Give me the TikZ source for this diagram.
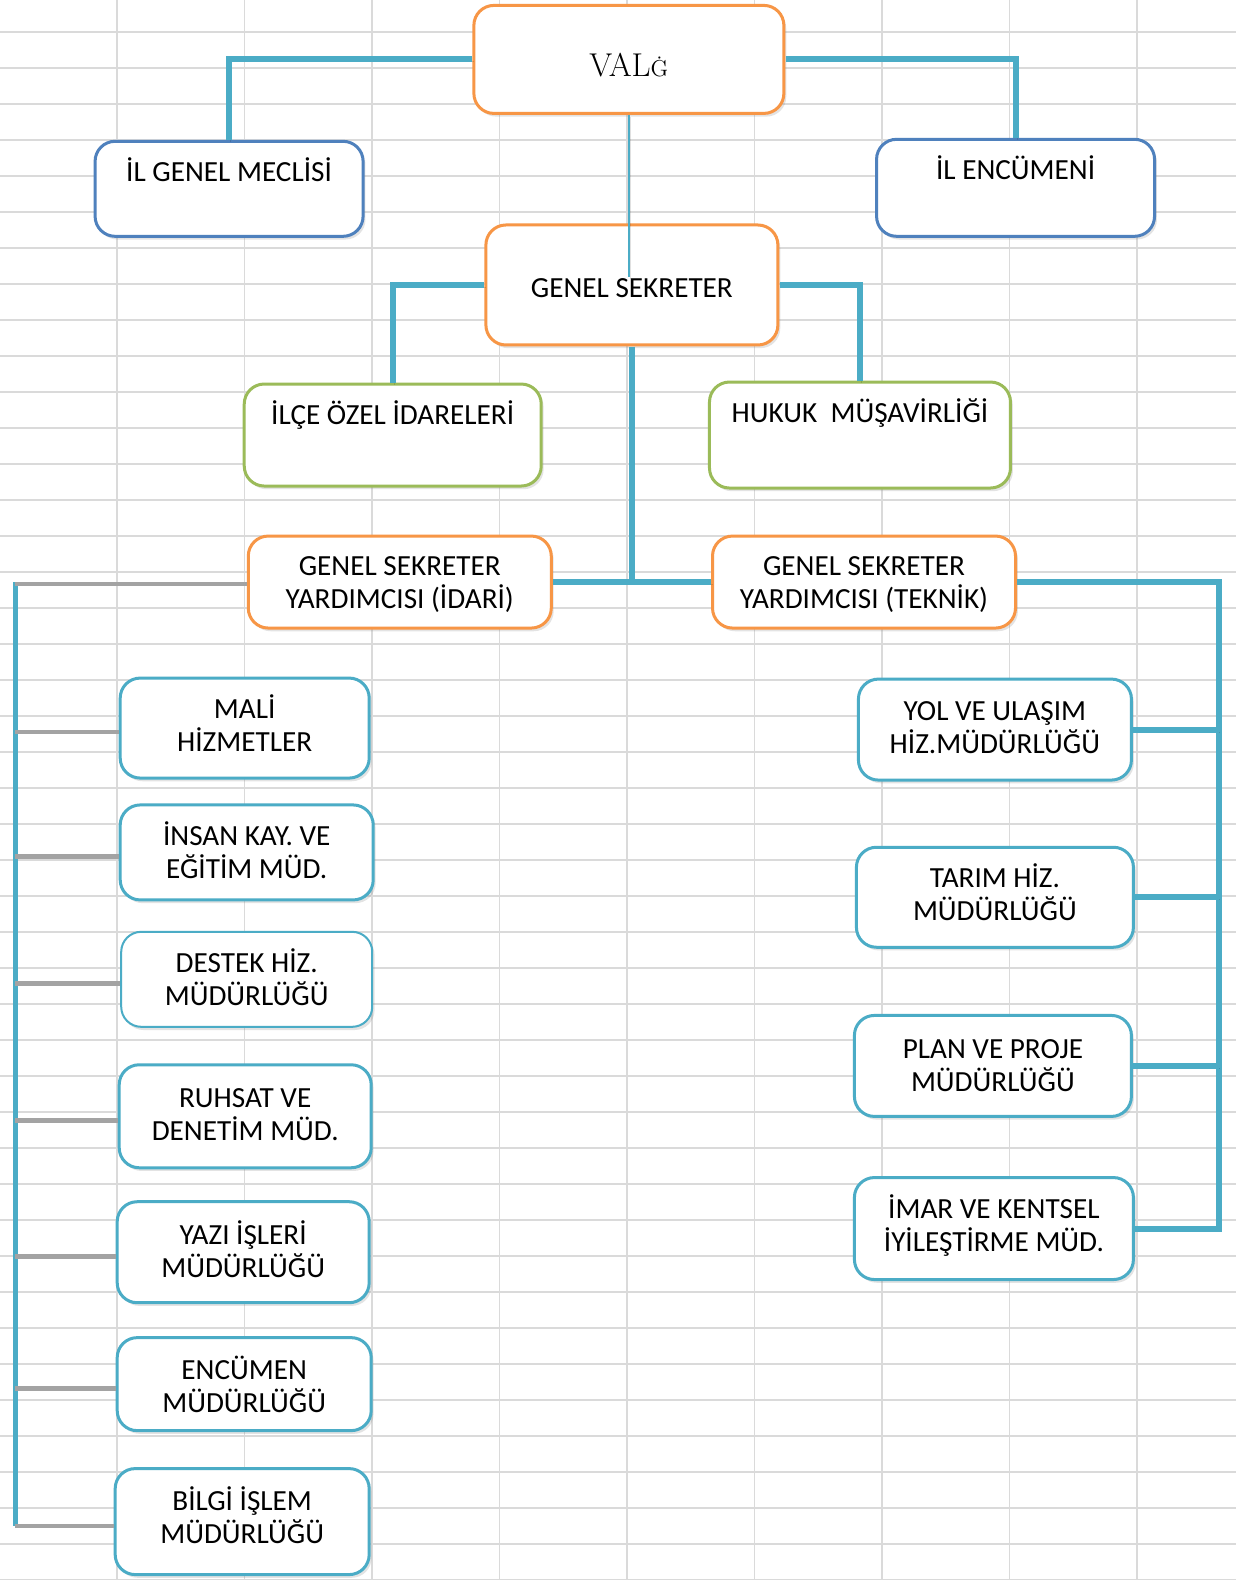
\documentclass[tikz,border=0pt]{standalone}
\usepackage{fontspec}
\newfontfamily\boxfont{Carlito}
\usetikzlibrary{shadows}
\usetikzlibrary{positioning}

\definecolor{orgline}{HTML}{F79646}
\definecolor{blueline}{HTML}{4F81BD}
\definecolor{greenline}{HTML}{9BBB59}
\definecolor{tealline}{HTML}{4BACC6}
\definecolor{gridline}{HTML}{DADADA}
\definecolor{linkgray}{HTML}{A3A3A3}

\begin{document}
\begin{tikzpicture}[x=0.5pt, y=-0.5pt]

    \tikzstyle{unit}=[draw, fill=white, line width=1.5pt, rounded corners=10pt, align=center, inner sep=2pt, text depth=0pt, font=\boxfont\fontsize{14.6}{16.5}\selectfont, drop shadow={opacity=0.22, shadow xshift=1.2pt, shadow yshift=-1.6pt}];
    \tikzstyle{head}=[unit, draw=orgline];
    \tikzstyle{council}=[unit, draw=blueline];
    \tikzstyle{advisor}=[unit, draw=greenline];
    \tikzstyle{office}=[unit, draw=tealline];
    \tikzstyle{link}=[draw=tealline, line width=3pt, preaction={draw=black, opacity=0.12, transform canvas={xshift=0.8pt, yshift=-1.2pt}}];
    \tikzstyle{sidelink}=[draw=linkgray, line width=2.2pt];
    \tikzstyle{gridrule}=[draw=gridline, line width=0.9pt];

    \useasboundingbox (0,0) rectangle (1236,1580);
    \fill [white] (0,0) rectangle (1236,1580);

    % spreadsheet grid
    \foreach \gx in {0,...,8}
        \draw [gridrule] ({117+127.5*\gx},0) -- ({117+127.5*\gx},1580);
    \foreach \gy in {0,...,43}
        \draw [gridrule] (0,{32+36*\gy}) -- (1236,{32+36*\gy});

    \begin{scope}[scale=1.007]

    % top levels
    \node [head, minimum width=155pt, minimum height=54pt, text height=17pt, font=\rmfamily\fontsize{16.5}{18}\selectfont](vali) at (624.5, 59){VAL{\fontsize{11.5}{12}\selectfont Ġ}};
    \node [council, text depth=3pt, minimum width=134pt, minimum height=47.5pt](meclis) at (227.5, 187.5){İL GENEL MECLİSİ\\\mbox{}};
    \node [council, text depth=4pt, minimum width=139pt, minimum height=48.5pt](encumeni) at (1008.5, 186.5){İL ENCÜMENİ\\\mbox{}};
    \node [head, text height=12.4pt, minimum width=146pt, minimum height=60pt](gs) at (627.5, 283){GENEL SEKRETER};
    \node [advisor, text depth=6pt, minimum width=148.5pt, minimum height=51pt](ilce) at (390, 432){İLÇE ÖZEL İDARELERİ\\\mbox{}};
    \node [advisor, text depth=8pt, minimum width=150.5pt, minimum height=53pt](hukuk) at (854, 432){HUKUK~ MÜŞAVİRLİĞİ\\\mbox{}};
    \node [head, minimum width=151.5pt, minimum height=46pt](gsyi) at (397, 578){GENEL SEKRETER\\YARDIMCISI (İDARİ)};
    \node [head, minimum width=151.5pt, minimum height=46pt](gsyt) at (858, 578){GENEL SEKRETER\\YARDIMCISI (TEKNİK)};

    % left column
    \node [office, text depth=5pt, minimum width=124.5pt, minimum height=50pt](mali) at (243, 723){MALİ\\HİZMETLER};
    \node [office, text depth=2pt, minimum width=126.5pt, minimum height=47.5pt](insan) at (245, 846.5){İNSAN KAY. VE\\EĞİTİM MÜD.};
    \node [office, text depth=2pt, line width=1pt, minimum width=125.5pt, minimum height=47.5pt](destek) at (245, 972.5){DESTEK HİZ.\\MÜDÜRLÜĞÜ};
    \node [office, text depth=2pt, minimum width=126pt, minimum height=51.5pt](ruhsat) at (243.5, 1108.5){RUHSAT VE\\DENETİM MÜD.};
    \node [office, text depth=3pt, minimum width=126pt, minimum height=50.5pt](yazi) at (241.5, 1243.5){YAZI İŞLERİ\\MÜDÜRLÜĞÜ};
    \node [office, minimum width=127pt, minimum height=46.5pt](encmud) at (242.5, 1374.5){ENCÜMEN\\MÜDÜRLÜĞÜ};
    \node [office, text depth=7pt, minimum width=127pt, minimum height=53pt](bilgi) at (240.5, 1511){BİLGİ İŞLEM\\MÜDÜRLÜĞÜ};

    % right column
    \node [office, text depth=2pt, minimum width=136.5pt, minimum height=50.5pt](yol) at (988, 724.5){YOL VE ULAŞIM\\HİZ.MÜDÜRLÜĞÜ};
    \node [office, text depth=5pt, minimum width=138.5pt, minimum height=50pt](tarim) at (988, 891){TARIM HİZ.\\MÜDÜRLÜĞÜ};
    \node [office, minimum width=138.5pt, minimum height=50.5pt](plan) at (986, 1058.5){PLAN VE PROJE\\MÜDÜRLÜĞÜ};
    \node [office, text depth=5pt, minimum width=139.5pt, minimum height=51pt](imar) at (987, 1220){İMAR VE KENTSEL\\İYİLEŞTİRME MÜD.};

    \coordinate (lbus) at (15, 578);
    \coordinate (rbus) at (1210, 575);
    \coordinate (gsin) at (624.5, 275);

    \draw [link] (vali.west) -| (meclis.north);
    \draw [link] (vali.east) -| (encumeni.north);
    \draw [link] (gs.west) -| (ilce.north);
    \draw [link] (gs.east) -| (hukuk.north);
    \draw [link] (gs.south) -- (gs.south |- gsyi.east);
    \draw [link] (gsyi.east) -- (gsyt.west);

    \draw [link] (gsyt.east) -- (gsyt.east -| rbus) -- (imar.east -| rbus) -- (imar.east);
    \foreach \n in {yol, tarim, plan}
        \draw [link] (\n.east) -- (\n.east -| rbus);

    \draw [link, line width=2.5pt] (lbus) -- ([yshift=-2pt]bilgi.west -| lbus);
    \draw [sidelink] ([yshift=-1pt]gsyi.west) -- ([yshift=-1pt]gsyi.west -| lbus);
    \foreach \n in {mali, insan, destek, ruhsat, yazi, encmud, bilgi}
        \draw [sidelink] ([yshift=-2pt]\n.west) -- ([yshift=-2pt]\n.west -| lbus);

    \draw [link, line width=1.2pt] (vali.south) -- (gsin);

    \end{scope}

\end{tikzpicture}
\end{document}
